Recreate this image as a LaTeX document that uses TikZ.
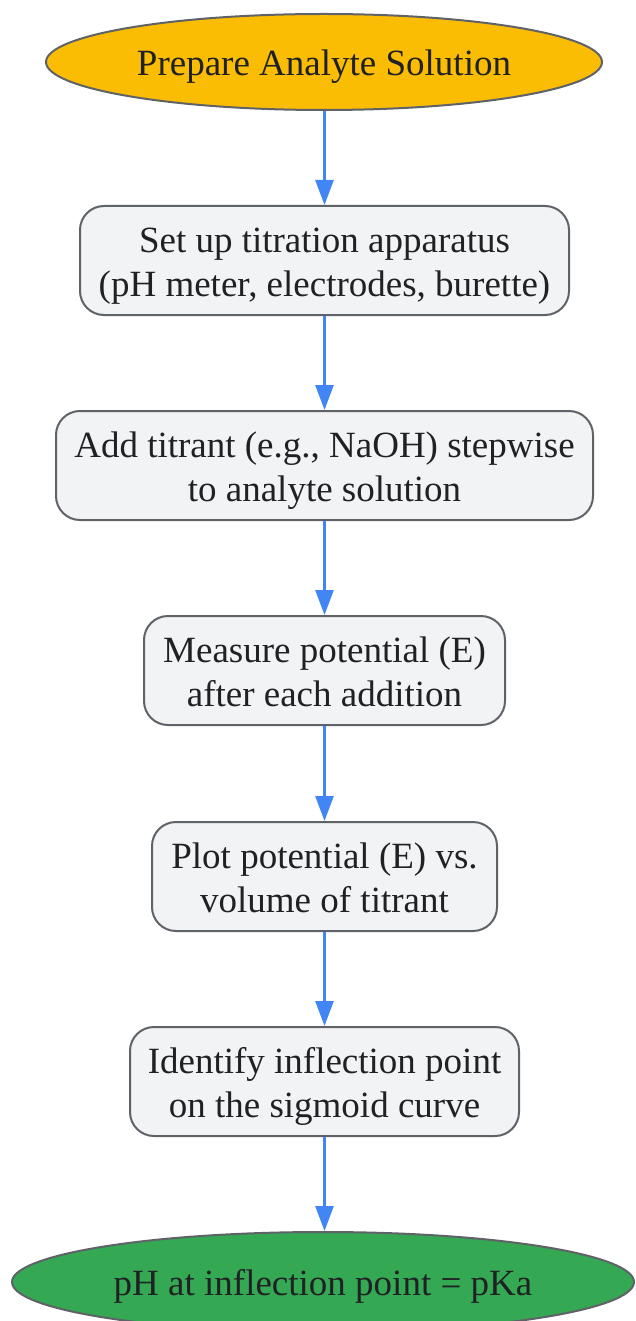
\documentclass[tikz,border=0pt]{standalone}
\usepackage{fontspec}
\setmainfont{Liberation Serif}
\usetikzlibrary{shapes.geometric,arrows.meta}
\definecolor{boxfill}{HTML}{F1F3F4}
\definecolor{boxline}{HTML}{5F6368}
\definecolor{txt}{HTML}{202124}
\definecolor{arr}{HTML}{4285F4}
\definecolor{startfill}{HTML}{FBBC04}
\definecolor{endfill}{HTML}{34A853}
\newcommand{\tx}[1]{\begin{tabular}{@{}c@{}}\rule{0pt}{40.5pt}#1\end{tabular}}
\tikzset{
  every node/.style={text=txt, font=\fontsize{37}{44}\selectfont, inner sep=0pt},
  stepbox/.style={draw=boxline, line width=2pt, fill=boxfill, rectangle, rounded corners=24pt, minimum height=109pt},
  term/.style={draw=boxline, line width=2pt, ellipse},
  flow/.style={draw=arr, line width=2.6pt, -{Triangle[length=25pt,width=18pt]}}
}
\begin{document}
\begin{tikzpicture}[x=1pt,y=-1pt]
\useasboundingbox (0,0) rectangle (636,1321);
\node[term, fill=startfill, minimum width=556pt, minimum height=96pt] (n1) at (324,62) {\tx{Prepare Analyte Solution}};
\node[stepbox, minimum width=489pt] (n2) at (324.5,260.5) {\tx{Set up titration apparatus\\(pH meter, electrodes, burette)}};
\node[stepbox, minimum width=537pt] (n3) at (324.5,465.5) {\tx{Add titrant (e.g., NaOH) stepwise\\to analyte solution}};
\node[stepbox, minimum width=361pt] (n4) at (324.5,670.5) {\tx{Measure potential (E)\\after each addition}};
\node[stepbox, minimum width=345pt] (n5) at (324.5,876.5) {\tx{Plot potential (E) vs.\\volume of titrant}};
\node[stepbox, minimum width=389pt] (n6) at (324.5,1081.5) {\tx{Identify inflection point\\on the sigmoid curve}};
\node[term, fill=endfill, minimum width=622pt, minimum height=100pt] (n7) at (323,1282) {\tx{pH at inflection point = pKa}};
\draw[flow] (n1.south -| n2.north) -- (n2.north);
\draw[flow] (n2) -- (n3);
\draw[flow] (n3) -- (n4);
\draw[flow] (n4) -- (n5);
\draw[flow] (n5) -- (n6);
\draw[flow] (n6.south) -- (n7.north -| n6.south);
\end{tikzpicture}
\end{document}
